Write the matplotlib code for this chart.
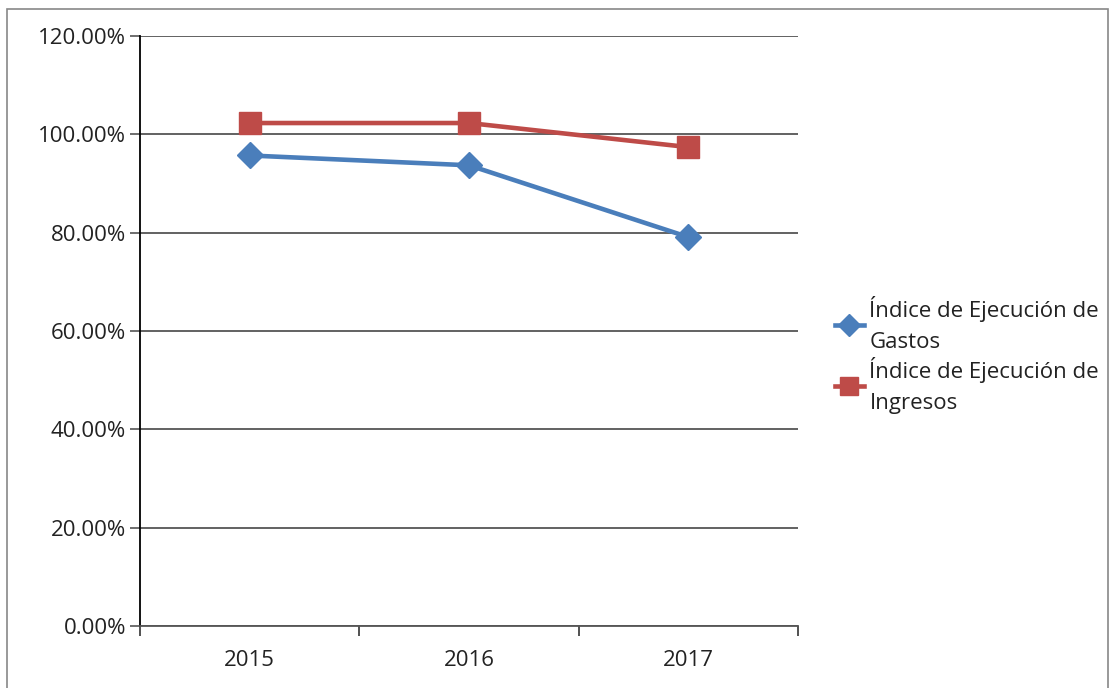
import matplotlib.pyplot as plt
from matplotlib.patches import Rectangle
from matplotlib.ticker import FuncFormatter, FixedLocator

# data
years = ['2015', '2016', '2017']
gastos = [95.7, 93.7, 79.1]
ingresos = [102.3, 102.3, 97.4]
labels = ['Índice de Ejecución de\nGastos', 'Índice de Ejecución de\nIngresos']

plt.rcParams['font.family'] = ['Open Sans', 'DejaVu Sans']

fig = plt.figure(figsize=(11.14, 6.88), dpi=100)
ax = fig.add_axes([140/1114, 1 - 626/688, (798-140)/1114, (626-36)/688])

x = range(len(years))
ax.plot(x, gastos, color='#4a7ebb', lw=3.3, marker='D', ms=13, label=labels[0])
ax.plot(x, ingresos, color='#be4b48', lw=3.3, marker='s', ms=16, label=labels[1])

ax.set_xlim(-0.5, 2.5)
ax.set_ylim(0, 120)
ax.set_yticks(range(0, 121, 20))
ax.yaxis.set_major_formatter(FuncFormatter(lambda v, p: '%.2f%%' % v))
ax.set_xticks(list(x))
ax.set_xticklabels(years)
ax.xaxis.set_minor_locator(FixedLocator([-0.5, 0.5, 1.5, 2.5]))
ax.tick_params(axis='x', which='major', length=0, labelsize=16, pad=17, colors='#222222')
ax.tick_params(axis='x', which='minor', length=7, width=1.2, color='#333333')
ax.tick_params(axis='y', length=7, width=1.2, labelsize=16, colors='#222222', pad=3)
ax.tick_params(axis='y', color='#555555')

ax.grid(axis='y', color='#555555', lw=1.3)
ax.set_axisbelow(True)
for s in ['top', 'right']:
    ax.spines[s].set_visible(False)
ax.spines['left'].set_color('black')
ax.spines['left'].set_linewidth(1.3)
ax.spines['bottom'].set_color('#555555')
ax.spines['bottom'].set_linewidth(1.3)

leg = fig.legend(loc='center left', bbox_to_anchor=(815/1114, 1 - 355/688), frameon=False,
                 fontsize=16, handlelength=1.3, handletextpad=0.25, labelspacing=0.2,
                 markerscale=0.85)
for t in leg.get_texts():
    t.set_linespacing(1.6)
    t.set_color('#222222')

fig.patches.append(Rectangle((7/1114, -0.01), 1101/1114, 1 - 9/688 + 0.01,
                             transform=fig.transFigure, fill=False,
                             edgecolor='#888888', lw=1.2))

plt.savefig('out.png')
